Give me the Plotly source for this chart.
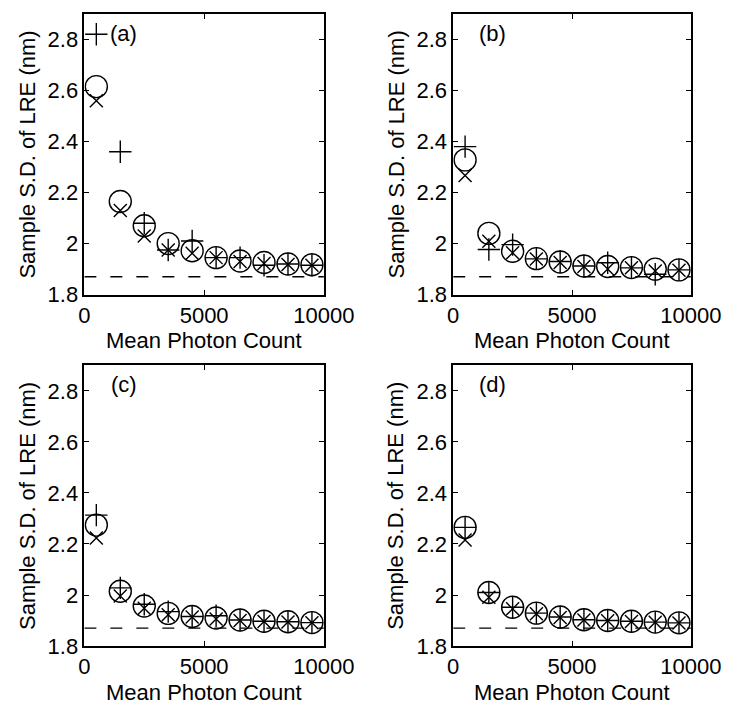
import plotly.graph_objects as go

# ---------------- data ----------------
photon_counts = [500, 1500, 2500, 3500, 4500, 5500, 6500, 7500, 8500, 9500]

a_plus   = [2.82, 2.36, 2.08, 1.975, 2.01, 1.945, 1.945, 1.915, 1.92, 1.915]
a_circle = [2.615, 2.165, 2.07, 2.0, 1.972, 1.945, 1.932, 1.926, 1.92, 1.917]
a_cross  = [2.56, 2.13, 2.03, 1.975, 1.962, 1.945, 1.93, 1.922, 1.918, 1.915]

b_plus   = [2.38, 1.977, 1.996, 1.94, 1.93, 1.912, 1.925, 1.905, 1.88, 1.897]
b_circle = [2.328, 2.04, 1.97, 1.941, 1.928, 1.912, 1.91, 1.906, 1.90, 1.897]
b_cross  = [2.267, 2.009, 1.964, 1.94, 1.926, 1.91, 1.90, 1.905, 1.893, 1.896]

c_plus   = [2.313, 2.028, 1.964, 1.935, 1.916, 1.919, 1.902, 1.897, 1.895, 1.892]
c_circle = [2.274, 2.015, 1.957, 1.928, 1.916, 1.91, 1.902, 1.897, 1.895, 1.892]
c_cross  = [2.223, 1.996, 1.948, 1.923, 1.914, 1.906, 1.90, 1.896, 1.894, 1.891]

d_plus   = [2.265, 2.01, 1.952, 1.929, 1.914, 1.903, 1.90, 1.897, 1.894, 1.891]
d_circle = [2.265, 2.01, 1.952, 1.929, 1.914, 1.903, 1.90, 1.897, 1.894, 1.891]
d_cross  = [2.216, 1.991, 1.946, 1.927, 1.912, 1.902, 1.899, 1.896, 1.893, 1.89]

baseline_x = [0, 10000]
baseline_y = 1.87

panel_labels = ["(a)", "(b)", "(c)", "(d)"]
x_tick_vals = [0, 5000, 10000]
x_tick_text = ["0", "5000", "10000"]
y_tick_vals = [1.8, 2.0, 2.2, 2.4, 2.6, 2.8]
y_tick_text = ["1.8", "2", "2.2", "2.4", "2.6", "2.8"]
x_title = "Mean Photon Count"
y_title = "Sample S.D. of LRE (nm)"

panels = [
    (a_plus, a_circle, a_cross),
    (b_plus, b_circle, b_cross),
    (c_plus, c_circle, c_cross),
    (d_plus, d_circle, d_cross),
]

# ---------------- layout geometry ----------------
W, H = 750, 708
FONT = "Liberation Sans, Arial, Helvetica, sans-serif"
FS = 22
col_px = [(74, 326), (462, 712)]
row_px = [(6, 292), (364, 650)]

fig = go.Figure()

for i, (p, c, x) in enumerate(panels):
    suffix = "" if i == 0 else str(i + 1)
    xa, ya = "x" + suffix, "y" + suffix
    fig.add_trace(go.Scatter(
        x=baseline_x, y=[baseline_y, baseline_y], mode="lines",
        line=dict(color="black", width=1.3, dash="12px,14px"),
        xaxis=xa, yaxis=ya, hoverinfo="skip"))
    fig.add_trace(go.Scatter(
        x=photon_counts, y=c, mode="markers",
        marker=dict(symbol="circle-open", size=22, color="black",
                    line=dict(width=1.4, color="black")),
        xaxis=xa, yaxis=ya))
    fig.add_trace(go.Scatter(
        x=photon_counts, y=p, mode="markers",
        marker=dict(symbol="cross-thin-open", size=16, color="black",
                    line=dict(width=1.4, color="black")),
        xaxis=xa, yaxis=ya))
    fig.add_trace(go.Scatter(
        x=photon_counts, y=x, mode="markers",
        marker=dict(symbol="x-thin-open", size=13, color="black",
                    line=dict(width=1.4, color="black")),
        xaxis=xa, yaxis=ya))

layout = dict(
    width=W, height=H,
    margin=dict(l=0, r=0, t=0, b=0),
    paper_bgcolor="white", plot_bgcolor="white",
    showlegend=False,
    font=dict(family=FONT, size=FS, color="black"),
)

annotations = []
for i in range(4):
    r, cidx = divmod(i, 2)
    x0, x1 = col_px[cidx]
    y0, y1 = row_px[r]
    suffix = "" if i == 0 else str(i + 1)
    common_axis = dict(
        showline=True, linecolor="black", linewidth=1.5, mirror="ticks",
        ticks="inside", ticklen=5, tickwidth=1, tickcolor="black",
        showgrid=False, zeroline=False,
        tickfont=dict(family=FONT, size=FS, color="black"),
    )
    layout["xaxis" + suffix] = dict(
        domain=[x0 / W, x1 / W], range=[0, 10000],
        tickvals=x_tick_vals, ticktext=x_tick_text,
        anchor="y" + suffix, **common_axis)
    layout["yaxis" + suffix] = dict(
        domain=[1 - y1 / H, 1 - y0 / H], range=[1.8, 2.9],
        tickvals=y_tick_vals, ticktext=y_tick_text,
        anchor="x" + suffix, **common_axis)
    # panel label
    annotations.append(dict(
        text=panel_labels[i], x=1650, y=2.825,
        xref="x" + suffix, yref="y" + suffix,
        showarrow=False, xanchor="center", yanchor="middle",
        font=dict(family=FONT, size=FS, color="black")))
    # x title
    annotations.append(dict(
        text=x_title, x=(x0 + x1) / 2 / W, y=1 - (y1 + 47) / H,
        xref="paper", yref="paper", showarrow=False,
        xanchor="center", yanchor="middle",
        font=dict(family=FONT, size=FS, color="black")))
    # y title
    annotations.append(dict(
        text=y_title, x=(x0 - 60) / W, y=1 - (y0 + y1) / 2 / H,
        xref="paper", yref="paper", showarrow=False, textangle=-90,
        xanchor="center", yanchor="middle",
        font=dict(family=FONT, size=FS, color="black")))

layout["annotations"] = annotations
fig.update_layout(**layout)

fig.write_html("out.html")
